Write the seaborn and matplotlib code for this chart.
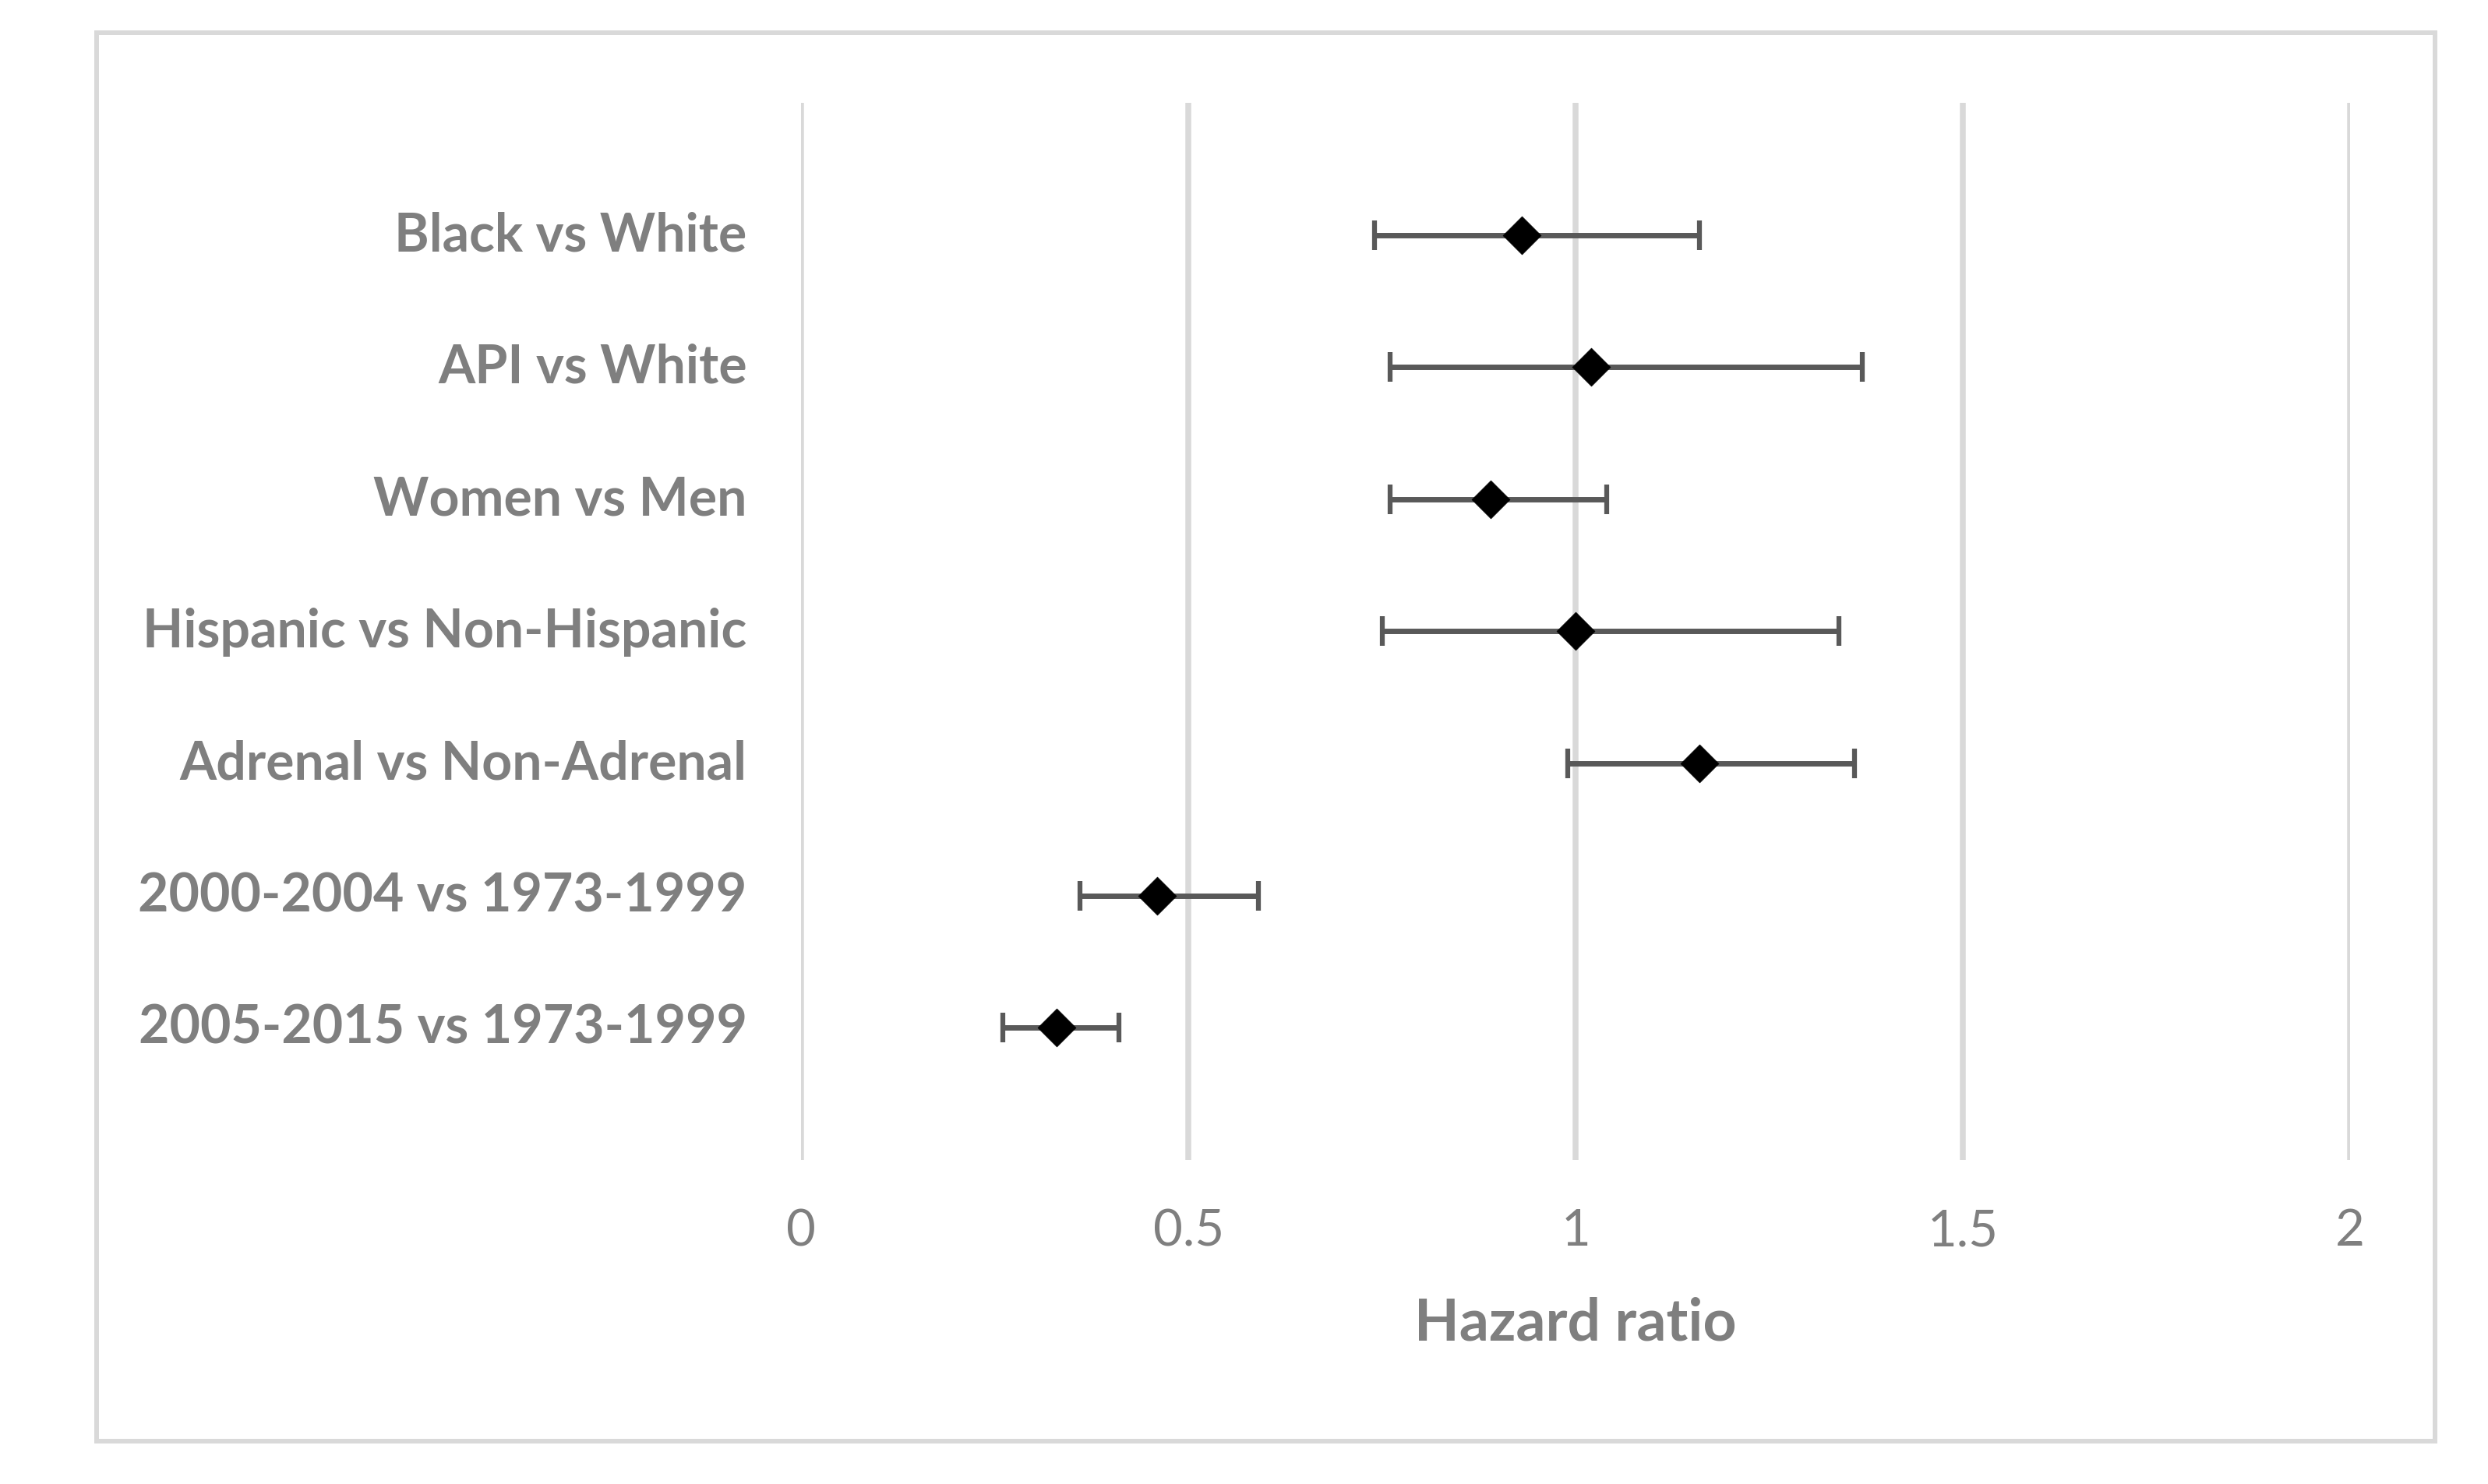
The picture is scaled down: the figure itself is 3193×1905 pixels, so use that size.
import numpy as np
import pandas as pd
import matplotlib
matplotlib.use("Agg")
import matplotlib.pyplot as plt
from matplotlib.patches import Rectangle
import seaborn as sns

comparisons = ["Black vs White", "API vs White", "Women vs Men",
               "Hispanic vs Non-Hispanic", "Adrenal vs Non-Adrenal",
               "2000-2004 vs 1973-1999", "2005-2015 vs 1973-1999"]
hazard_ratio = [0.93, 1.02, 0.89, 1.00, 1.16, 0.46, 0.33]
ci_lower = [0.74, 0.76, 0.76, 0.75, 0.99, 0.36, 0.26]
ci_upper = [1.16, 1.37, 1.04, 1.34, 1.36, 0.59, 0.41]
x_ticks = [0, 0.5, 1, 1.5, 2]
x_tick_labels = ["0", "0.5", "1", "1.5", "2"]
x_title = "Hazard ratio"

df = pd.DataFrame({"comparison": comparisons, "hr": hazard_ratio,
                   "lo": ci_lower, "hi": ci_upper})

sns.set_theme(style="white")
plt.rcParams["font.family"] = ["Lato", "DejaVu Sans"]

TEXT = "#7F7F7F"
GRID = "#D9D9D9"

fig = plt.figure(figsize=(31.93, 19.06), dpi=100)
fig.patch.set_facecolor("white")
ax = fig.add_axes([0.3220, 0.2183, 0.6226, 0.7119])

ax.errorbar(df["hr"], df["comparison"],
            xerr=[df["hr"] - df["lo"], df["hi"] - df["hr"]],
            fmt="none", ecolor="#595959", elinewidth=5, capsize=14,
            capthick=4.5, zorder=2)
sns.scatterplot(data=df, x="hr", y="comparison", marker="D", s=620,
                color="black", edgecolor="black", linewidth=0.5,
                ax=ax, zorder=3, legend=False)

ax.set_xlim(0, 2)
ax.set_ylim(len(comparisons), -1)
ax.set_xticks(x_ticks)
ax.set_xticklabels(x_tick_labels)
ax.grid(axis="x", color=GRID, linewidth=5.4)
ax.grid(axis="y", visible=False)
ax.set_axisbelow(True)
for s in ax.spines.values():
    s.set_visible(False)

ax.tick_params(axis="x", length=0, pad=44, labelsize=47, labelcolor=TEXT)
ax.tick_params(axis="y", length=0, pad=50, labelsize=49, labelcolor=TEXT)
for lab in ax.get_yticklabels():
    lab.set_fontweight("bold")
    lab.set_verticalalignment("center")

ax.set_ylabel("")
ax.set_xlabel(x_title, fontsize=54, fontweight="bold", color=TEXT)
ax.xaxis.set_label_coords(0.5, -0.129)

fig.patches.append(Rectangle((0.0388, 0.0289), 0.9399, 0.9485,
                             transform=fig.transFigure, fill=False,
                             edgecolor=GRID, linewidth=4.3, zorder=0))

fig.savefig("out.png", dpi=100, facecolor="white")
